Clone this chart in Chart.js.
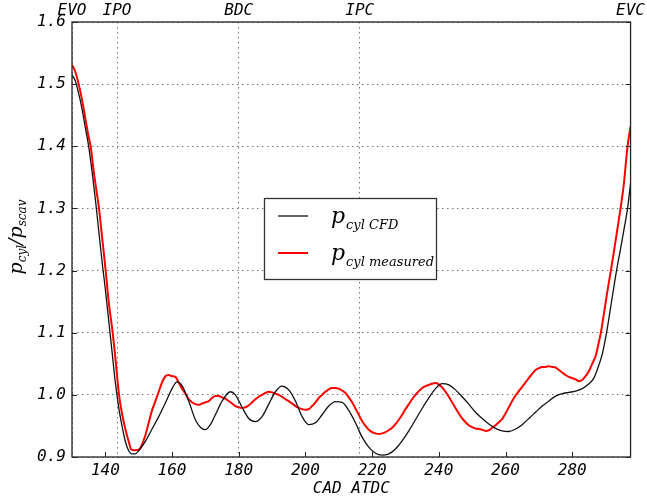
<!DOCTYPE html>
<html>
<head>
<meta charset="utf-8">
<script src="https://cdn.jsdelivr.net/npm/chart.js@4.4.1/dist/chart.umd.min.js"></script>
<style>
  html, body { margin: 0; padding: 0; background: #fff; }
  #wrap { width: 647px; height: 502px; }
</style>
</head>
<body>
<div id="wrap"><canvas id="myChart" width="647" height="502"></canvas></div>
<script>
// crank angle (deg) / pressure ratio
const cfdX = [130, 131, 132, 133, 134, 135, 136, 137, 138, 139, 140, 141, 142, 143, 144, 145, 146, 147, 148, 149,
  150, 152, 154, 156, 158, 160, 161.5, 163, 165, 167, 168.5, 170, 171.5, 173, 175, 177.5, 179, 181, 183, 185,
  187, 189, 191, 193, 195, 197, 199, 201, 203, 205, 207, 209, 211, 213, 215, 217, 219, 221, 223, 225,
  227, 229, 231, 233, 235, 237, 239, 241, 243, 245, 247, 249, 251, 253, 255, 257, 259, 261, 263, 265,
  267, 269, 271, 273, 275, 277, 279, 281, 283, 285, 286.5, 288, 289, 290.3, 291.5, 293.3, 294.5, 295.5, 296.6, 297.5];
const cfdY = [1.515, 1.505, 1.485, 1.46, 1.43, 1.40, 1.36, 1.315, 1.265, 1.215, 1.17, 1.12, 1.07, 1.02, 0.98, 0.95, 0.925, 0.91, 0.905, 0.905,
  0.91, 0.925, 0.945, 0.965, 0.987, 1.01, 1.021, 1.015, 0.99, 0.96, 0.948, 0.944, 0.952, 0.968, 0.99, 1.005, 1.0, 0.98, 0.962, 0.957,
  0.965, 0.985, 1.005, 1.014, 1.008, 0.99, 0.965, 0.952, 0.955, 0.968, 0.982, 0.989, 0.988, 0.975, 0.955, 0.932, 0.916, 0.906, 0.903, 0.905,
  0.913, 0.926, 0.942, 0.96, 0.978, 0.995, 1.01, 1.018, 1.016, 1.008, 0.997, 0.985, 0.972, 0.962, 0.953, 0.946, 0.942, 0.941, 0.945, 0.952,
  0.962, 0.972, 0.982, 0.99, 0.998, 1.002, 1.004, 1.006, 1.01, 1.018, 1.027, 1.048, 1.065, 1.10, 1.14, 1.20, 1.235, 1.265, 1.30, 1.34];

const measX = [130, 131, 132, 133, 134, 135, 135.6, 136.5, 137.3, 138.1, 139, 140.1, 141, 142.2, 143, 144.1, 145, 146, 147, 147.8,
  149, 150.3, 151, 152, 153, 154, 155, 156, 157, 158, 159, 160, 161, 162, 163, 164, 165, 166, 167, 168,
  169, 170, 171, 172, 173, 174, 175, 176, 177, 178, 179, 180, 181, 182, 183, 184, 185, 186, 187, 188,
  189, 190, 191, 192, 193, 194, 195, 196, 197, 198, 199, 200, 201, 202, 203, 204, 205, 206, 207, 208,
  209, 210, 211, 212, 213, 214, 215, 216, 217, 218, 219, 220, 221, 222, 223, 224, 225, 226, 227, 228,
  229, 230, 231, 232, 233, 234, 235, 236, 237, 238, 239, 240, 241, 242, 243, 244, 245, 246, 247, 248,
  249, 250, 251, 252, 253, 254, 255, 256, 257, 258, 259, 260, 261, 262, 263, 264, 265, 266, 267, 268,
  269, 270, 271, 272, 273, 274, 275, 276, 277, 278, 279, 280, 281, 282, 283, 284, 285, 286, 287, 288,
  288.6, 289.5, 290.5, 291.6, 292.5, 293.5, 294.5, 295.5, 296.6, 297.5];
const measY = [1.531, 1.52, 1.50, 1.475, 1.445, 1.415, 1.40, 1.36, 1.33, 1.30, 1.255, 1.20, 1.15, 1.10, 1.06, 1.00, 0.97, 0.945, 0.925, 0.912,
  0.911, 0.913, 0.92, 0.935, 0.955, 0.975, 0.99, 1.005, 1.02, 1.03, 1.032, 1.03, 1.029, 1.02, 1.01, 1.002, 0.993, 0.988, 0.985, 0.984,
  0.986, 0.988, 0.99, 0.995, 0.998, 0.998, 0.996, 0.994, 0.99, 0.986, 0.982, 0.98, 0.979, 0.98, 0.983, 0.988, 0.993, 0.997, 1.0, 1.003,
  1.005, 1.004, 1.002, 1.0, 0.997, 0.993, 0.99, 0.986, 0.982, 0.979, 0.977, 0.976, 0.977, 0.982, 0.988, 0.995, 1.0, 1.005, 1.009, 1.011,
  1.011, 1.01, 1.007, 1.003, 0.996, 0.988, 0.978, 0.968, 0.958, 0.95, 0.944, 0.94, 0.938, 0.937, 0.938, 0.94, 0.943, 0.947, 0.953, 0.96,
  0.968, 0.977, 0.985, 0.993, 1.0, 1.006, 1.011, 1.014, 1.016, 1.018, 1.019, 1.017, 1.012, 1.005, 0.997, 0.988, 0.979, 0.97, 0.962, 0.956,
  0.951, 0.948, 0.946, 0.945, 0.944, 0.942, 0.943, 0.947, 0.951, 0.956, 0.961, 0.97, 0.98, 0.99, 0.999, 1.006, 1.013, 1.02, 1.027, 1.034,
  1.04, 1.043, 1.045, 1.045, 1.046, 1.045, 1.044, 1.04, 1.036, 1.032, 1.029, 1.027, 1.025, 1.022, 1.024, 1.03, 1.038, 1.05, 1.062, 1.085,
  1.10, 1.13, 1.165, 1.20, 1.23, 1.265, 1.30, 1.34, 1.40, 1.432];

const xTicks = [140, 160, 180, 200, 220, 240, 260, 280];
const yTicks = [0.9, 1.0, 1.1, 1.2, 1.3, 1.4, 1.5, 1.6];
const eventPos = [130, 143.5, 180, 216.3, 297.5];
const eventLabels = ['EVO', 'IPO', 'BDC', 'IPC', 'EVC'];

const X_MIN = 130, X_MAX = 297.5;

const monoFont = { family: 'DejaVu Sans Mono', size: 16, style: 'italic' };

function toPts(xs, ys) {
    return xs.map((x, i) => ({ x: x, y: ys[i] }));
}

// frame, inward ticks, y title and legend
const decor = {
    id: 'decor',
    afterDraw(chart) {
        const ctx = chart.ctx;
        const a = chart.chartArea;
        const sx = chart.scales.x;
        const sy = chart.scales.y;
        ctx.save();
        ctx.strokeStyle = '#222';
        ctx.lineWidth = 1.3;
        ctx.setLineDash([]);
        ctx.strokeRect(a.left, a.top, a.right - a.left, a.bottom - a.top);

        ctx.lineWidth = 1;
        ctx.beginPath();
        xTicks.forEach(v => {
            const px = Math.round(sx.getPixelForValue(v)) + 0.5;
            ctx.moveTo(px, a.bottom);
            ctx.lineTo(px, a.bottom - 5);
        });
        yTicks.forEach(v => {
            const py = Math.round(sy.getPixelForValue(v)) + 0.5;
            ctx.moveTo(a.left, py);
            ctx.lineTo(a.left + 5, py);
            ctx.moveTo(a.right, py);
            ctx.lineTo(a.right - 5, py);
        });
        ctx.stroke();

        // y axis title p_cyl / p_scav
        ctx.save();
        ctx.translate(22, 237);
        ctx.rotate(-Math.PI / 2);
        ctx.fillStyle = '#000';
        ctx.textBaseline = 'alphabetic';
        const big = 'italic 19px "DejaVu Serif"';
        const small = 'italic 12px "DejaVu Serif"';
        const parts = [['p', big, 0], ['cyl', small, 4], ['/', big, 0], ['p', big, 0], ['scav', small, 4]];
        let w = 0;
        parts.forEach(p => { ctx.font = p[1]; w += ctx.measureText(p[0]).width; });
        let cx = -w / 2;
        parts.forEach(p => {
            ctx.font = p[1];
            ctx.fillText(p[0], cx, p[2]);
            cx += ctx.measureText(p[0]).width;
        });
        ctx.restore();

        // legend box
        ctx.fillStyle = '#fff';
        ctx.fillRect(264, 198, 172, 81);
        ctx.strokeStyle = '#333';
        ctx.lineWidth = 1.3;
        ctx.strokeRect(264.5, 198.5, 172, 81);
        const entries = [
            { color: '#111', width: 1.3, sub: 'cyl CFD', y: 216 },
            { color: '#ff0000', width: 2, sub: 'cyl measured', y: 253 }
        ];
        entries.forEach(e => {
            ctx.strokeStyle = e.color;
            ctx.lineWidth = e.width;
            ctx.beginPath();
            ctx.moveTo(278, e.y);
            ctx.lineTo(308, e.y);
            ctx.stroke();
            ctx.fillStyle = '#000';
            ctx.font = 'italic 22px "DejaVu Serif"';
            ctx.fillText('p', 331, e.y + 7);
            const pw = ctx.measureText('p').width;
            ctx.font = 'italic 13px "DejaVu Serif"';
            ctx.fillText(e.sub, 331 + pw + 1, e.y + 13);
        });
        ctx.restore();
    }
};

const config = {
    type: 'line',
    data: {
        datasets: [{
            label: 'p cyl CFD',
            data: toPts(cfdX, cfdY),
            borderColor: '#111',
            borderWidth: 1.3,
            pointRadius: 0,
            cubicInterpolationMode: 'monotone',
            xAxisID: 'x',
            yAxisID: 'y',
        }, {
            label: 'p cyl measured',
            data: toPts(measX, measY),
            borderColor: '#ff0000',
            borderWidth: 2,
            pointRadius: 0,
            cubicInterpolationMode: 'monotone',
            xAxisID: 'x',
            yAxisID: 'y',
        }]
    },
    options: {
        responsive: false,
        animation: false,
        layout: { padding: { top: 0, right: 14, bottom: 0, left: 0 } },
        plugins: {
            legend: { display: false },
            tooltip: { enabled: false }
        },
        scales: {
            x: {
                type: 'linear',
                position: 'bottom',
                min: X_MIN,
                max: X_MAX,
                afterBuildTicks: axis => { axis.ticks = xTicks.map(v => ({ value: v })); },
                grid: { display: false, drawTicks: false },
                border: { display: false },
                ticks: { font: monoFont, color: '#000', padding: 4, maxRotation: 0, autoSkip: false },
                title: { display: true, text: 'CAD ATDC', font: monoFont, color: '#000', padding: { top: 0, bottom: 4 } },
                afterFit: s => { s.height = 45; }
            },
            xTop: {
                type: 'linear',
                position: 'top',
                min: X_MIN,
                max: X_MAX,
                afterBuildTicks: axis => { axis.ticks = eventPos.map(v => ({ value: v })); },
                grid: { drawOnChartArea: true, drawTicks: false, color: '#777', lineWidth: 1 },
                border: { display: false, dash: [1.5, 3.5] },
                ticks: {
                    font: monoFont, color: '#000', padding: 2, maxRotation: 0, autoSkip: false,
                    callback: (v, i) => eventLabels[i]
                },
                afterFit: s => { s.height = 22; }
            },
            y: {
                min: 0.9,
                max: 1.6,
                afterBuildTicks: axis => { axis.ticks = yTicks.map(v => ({ value: v })); },
                grid: { drawTicks: false, color: '#777', lineWidth: 1 },
                border: { display: false, dash: [1.5, 3.5] },
                ticks: { font: monoFont, color: '#000', padding: 6, callback: v => v.toFixed(1) },
                afterFit: s => { s.width = 72; }
            }
        }
    },
    plugins: [decor]
};

const myChart = new Chart(document.getElementById('myChart'), config);
</script>
</body>
</html>
